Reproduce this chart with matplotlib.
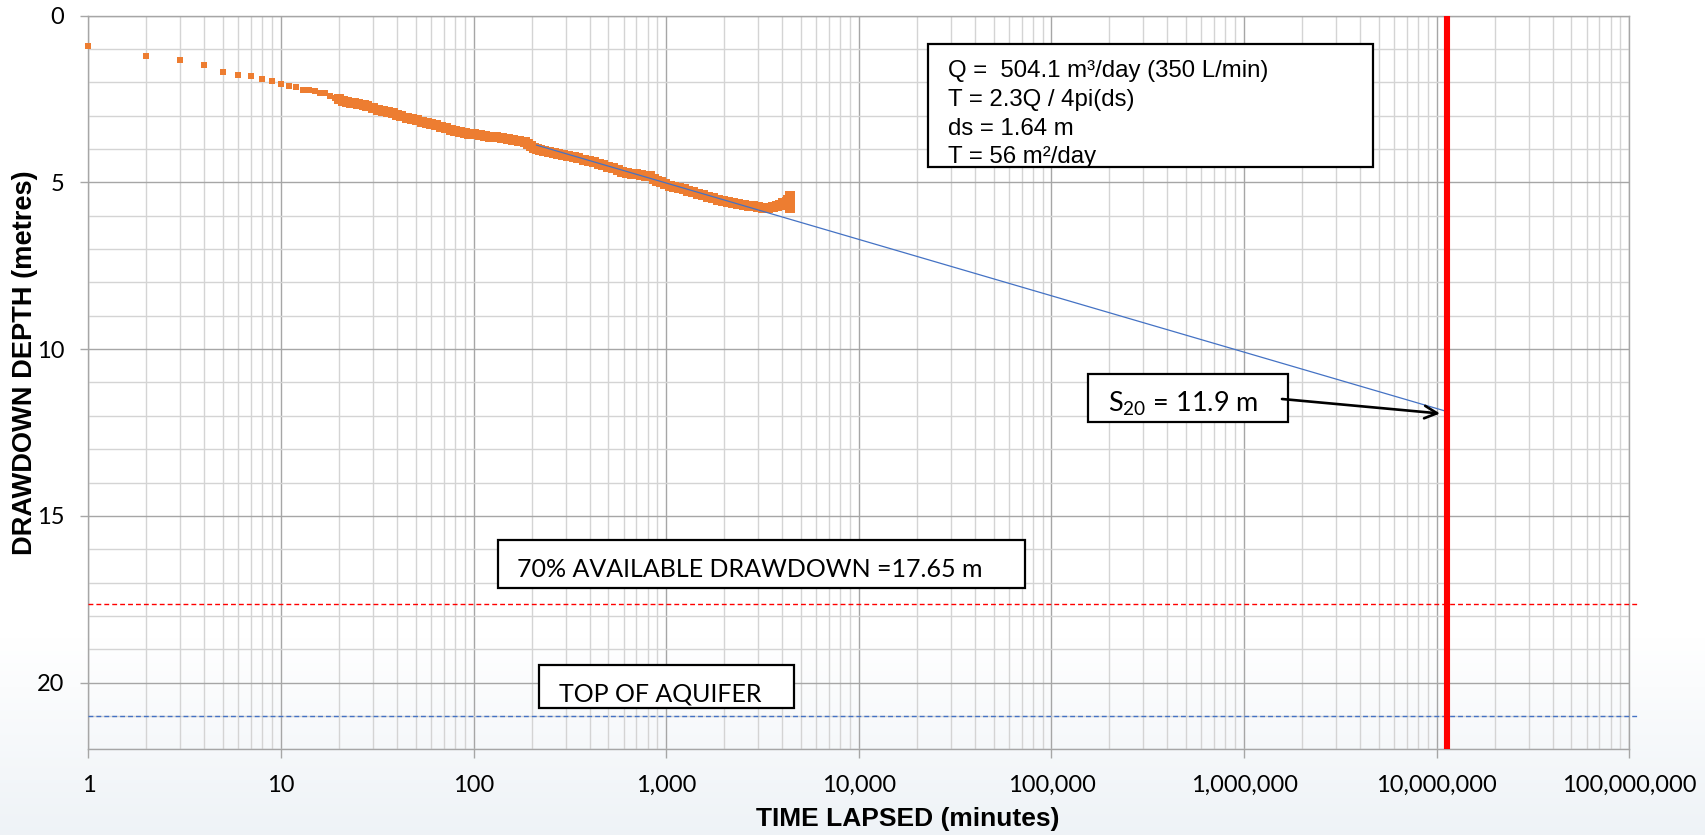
import numpy as np
import matplotlib
matplotlib.use("Agg")
import matplotlib.pyplot as plt
from matplotlib.ticker import MultipleLocator, LogLocator, FuncFormatter, NullFormatter
from matplotlib.patches import Rectangle, FancyArrowPatch

# ---------------- data ----------------
time_min = [1, 2, 3, 4, 5, 6, 7, 8, 9, 10, 11, 12, 13, 14, 15, 16, 17, 18, 19, 20,
            21, 22, 23, 24, 25, 27, 28, 30, 32, 34, 36, 38, 40, 42, 45, 48, 51, 54,
            57, 60, 64, 68, 72, 76, 80, 85, 90, 95, 100, 108, 115, 122, 130, 140,
            150, 160, 172, 185, 192, 198, 205, 212, 222, 232, 245, 260, 275, 292,
            310, 330, 350, 372, 395, 420, 445, 470, 500, 531, 560, 590, 623, 660,
            700, 740, 780, 823, 860, 900, 940, 985, 1040, 1100, 1160, 1230, 1300,
            1380, 1460, 1556, 1650, 1750, 1860, 1980, 2100, 2230, 2370, 2520, 2680,
            2831, 3000, 3190, 3380, 3595, 3750, 3890, 4050, 4217, 4300, 4385, 4390, 4395]
drawdown_m = [0.91, 1.21, 1.34, 1.49, 1.70, 1.79, 1.80, 1.91, 1.96, 2.06, 2.10, 2.13,
              2.22, 2.23, 2.27, 2.32, 2.33, 2.42, 2.46, 2.50, 2.55, 2.58, 2.61, 2.63,
              2.65, 2.68, 2.72, 2.78, 2.84, 2.87, 2.90, 2.93, 2.97, 3.02, 3.07, 3.11,
              3.14, 3.18, 3.21, 3.24, 3.28, 3.33, 3.38, 3.42, 3.45, 3.48, 3.51, 3.54,
              3.55, 3.58, 3.61, 3.63, 3.65, 3.68, 3.71, 3.73, 3.76, 3.78, 3.85, 3.92,
              3.97, 4.01, 4.04, 4.07, 4.10, 4.13, 4.16, 4.18, 4.22, 4.25, 4.28, 4.32,
              4.36, 4.40, 4.44, 4.49, 4.53, 4.58, 4.64, 4.69, 4.73, 4.75, 4.76, 4.78,
              4.80, 4.82, 4.90, 4.96, 5.00, 5.05, 5.10, 5.14, 5.18, 5.21, 5.25, 5.30,
              5.34, 5.38, 5.43, 5.48, 5.52, 5.56, 5.59, 5.62, 5.65, 5.68, 5.70, 5.72,
              5.75, 5.78, 5.77, 5.75, 5.72, 5.68, 5.63, 5.58, 5.52, 5.46, 5.78, 5.42]

fit_time = [212, 1.13e7]
fit_depth = [3.88, 11.87]

twenty_year_min = 1.13e7
available_dd_70 = 17.65
top_aquifer = 21.0
hline_x = [1, 1.1e8]

x_ticks = [1, 10, 100, 1000, 1e4, 1e5, 1e6, 1e7, 1e8]
y_ticks = [0, 5, 10, 15, 20]

info_lines = ["Q =  504.1 m\u00b3/day (350 L/min)",
              "T = 2.3Q / 4pi(ds)",
              "ds = 1.64 m",
              "T = 56 m\u00b2/day"]
s20_label = r"$\mathregular{S_{20}}$ = 11.9 m"
dd_label = "70% AVAILABLE DRAWDOWN =17.65 m"
aquifer_label = "TOP OF AQUIFER"
x_label = "TIME LAPSED (minutes)"
y_label = "DRAWDOWN DEPTH (metres)"

# ---------------- figure ----------------
W, H = 1706, 835
fig = plt.figure(figsize=(W / 100, H / 100), dpi=100)

def fx(px):
    return px / W

def fy(py):
    return 1 - py / H

# background gradient (slide background)
bg = fig.add_axes([0, 0, 1, 1], zorder=-10)
rows = np.linspace(0, 1, 400)[:, None]
t = np.clip((rows * H - 640) / (H - 640), 0, 1)
top_c = np.array([1.0, 1.0, 1.0])
bot_c = np.array([0.935, 0.952, 0.968])
grad = top_c[None, None, :] * (1 - t[..., None]) + bot_c[None, None, :] * t[..., None]
grad = np.repeat(grad, 2, axis=1)
bg.imshow(grad, extent=[0, 1, 0, 1], aspect="auto", origin="upper")
bg.axis("off")

L, R, T, B = 88.5, 1629.3, 15.7, 749.3
ax = fig.add_axes([fx(L), fy(B), fx(R) - fx(L), fy(T) - fy(B)])
ax.set_facecolor("none")

ax.set_xscale("log")
ax.set_xlim(1, 1e8)
ax.set_ylim(22, 0)

ax.xaxis.set_minor_locator(LogLocator(base=10, subs=np.arange(2, 10), numticks=200))
ax.set_xticks(x_ticks)
ax.xaxis.set_major_formatter(FuncFormatter(lambda v, p: f"{v:,.0f}"))
ax.xaxis.set_minor_formatter(NullFormatter())
ax.set_yticks(y_ticks)
ax.yaxis.set_minor_locator(MultipleLocator(1))

ax.grid(which="major", color="#A6A6A6", lw=1.0, zorder=0)
ax.grid(which="minor", color="#D4D4D4", lw=1.0, zorder=0)
ax.set_axisbelow(True)
for s in ax.spines.values():
    s.set_color("#A6A6A6")
    s.set_linewidth(1.0)

ax.tick_params(axis="x", which="major", length=6.5, width=1, color="#A6A6A6", pad=12,
               labelsize=17, labelcolor="black")
ax.tick_params(axis="y", which="major", length=5.5, width=1, color="#A6A6A6", pad=12,
               labelsize=17, labelcolor="black")
ax.tick_params(which="minor", length=0)
for lab in ax.get_xticklabels() + ax.get_yticklabels():
    lab.set_fontfamily("Lato")

# data: early sparse readings and the dense logger band
n_early = 19
ax.plot(time_min[:n_early], drawdown_m[:n_early], ls="none", marker="s", ms=4.6,
        mew=0, color="#ED7D31", zorder=3, clip_on=False)
ax.plot(time_min[n_early:], drawdown_m[n_early:], ls="none", marker="s", ms=6.8,
        mew=0, color="#ED7D31", zorder=3, clip_on=False)
ax.plot(fit_time, fit_depth, color="#4472C4", lw=0.9, zorder=4)
ax.plot(hline_x, [available_dd_70] * 2, color="#FF0000", lw=1.0, dashes=(3.5, 2.2),
        zorder=4, clip_on=False)
ax.plot(hline_x, [top_aquifer] * 2, color="#4472C4", lw=1.0, dashes=(3.5, 2.2),
        zorder=4, clip_on=False)
ax.plot([twenty_year_min] * 2, [0, 22], color="#FF0000", lw=4.4, zorder=5,
        solid_capstyle="butt")

# ---------------- boxes & annotations ----------------
def box(x0, y0, x1, y1):
    fig.add_artist(Rectangle((fx(x0), fy(y1)), fx(x1) - fx(x0), fy(y0) - fy(y1),
                             transform=fig.transFigure, facecolor="white",
                             edgecolor="black", lw=1.6, zorder=10))

box(928, 44, 1373, 166.7)
for line, yb in zip(info_lines, [77, 106, 135, 163]):
    fig.text(fx(948), fy(yb), line, family="Liberation Sans", fontsize=17.3,
             va="baseline", ha="left", zorder=11)

box(1088, 374, 1288, 422)
fig.text(fx(1108), fy(412), s20_label, family="Lato", fontsize=19.5,
         va="baseline", ha="left", zorder=11)
fig.add_artist(FancyArrowPatch((fx(1282), fy(399)), (fx(1440), fy(413.5)),
                               transform=fig.transFigure,
                               arrowstyle="->,head_length=9,head_width=4.5",
                               color="black", lw=1.9, zorder=12, shrinkA=0, shrinkB=0))

box(498, 540, 1025, 588)
fig.text(fx(517), fy(576.7), dd_label, family="Lato", fontsize=18,
         va="baseline", ha="left", zorder=11)

box(539, 665, 794, 708)
fig.text(fx(559), fy(701.7), aquifer_label, family="Lato", fontsize=18,
         va="baseline", ha="left", zorder=11)

# axis titles
fig.text(fx(907.5), fy(826), x_label, family="Liberation Sans", weight="bold",
         fontsize=19, ha="center", va="baseline")
fig.text(fx(25), fy(362.5), y_label, family="Liberation Sans", weight="bold",
         fontsize=19.6, rotation=90, ha="center", va="center")

fig.savefig("out.png", dpi=100)
